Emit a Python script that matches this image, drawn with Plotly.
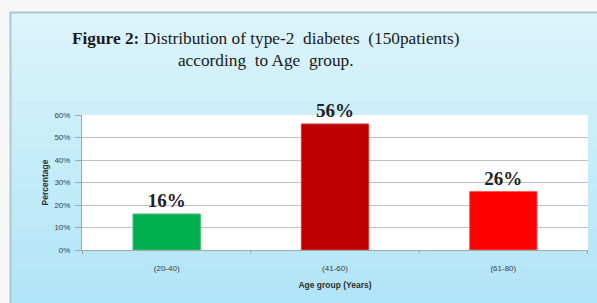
import plotly.graph_objects as go

categories = ["(20-40)", "(41-60)", "(61-80)"]
values = [16, 56, 26]
labels = ["16%", "56%", "26%"]
colors = ["#00B050", "#C00000", "#FF0000"]
border_colors = ["#3cc070", "#d03a3a", "#ff5a5a"]
y_ticks = [0, 10, 20, 30, 40, 50, 60]
y_ticklabels = ["0%", "10%", "20%", "30%", "40%", "50%", "60%"]

W, H = 597, 303
L, R, T, B = 82, 9, 115, 53
pw, ph = W - L - R, H - T - B

def px_x(p):
    return (p - L) / pw

def px_y(p):
    return (H - B - p) / ph

fig = go.Figure()
fig.add_trace(go.Bar(
    x=categories, y=values, width=0.4,
    marker=dict(color=colors, line=dict(color=border_colors, width=1)),
    text=labels, textposition="outside", cliponaxis=False,
    textfont=dict(family="Liberation Serif", size=19, color="#222222"),
    texttemplate="<b>%{text}</b>", hoverinfo="skip",
))

shapes = []
x0, x1 = px_x(10), px_x(W + 20)
top_px, bot_px = 12, H + 5
n = 30
c_top = (220, 244, 251)
c_bot = (176, 228, 247)
for i in range(n):
    a = top_px + (bot_px - top_px) * i / n
    b = top_px + (bot_px - top_px) * (i + 1) / n + 0.6
    t = i / (n - 1)
    col = tuple(round(c_top[k] + (c_bot[k] - c_top[k]) * t) for k in range(3))
    shapes.append(dict(type="rect", xref="paper", yref="paper", x0=x0, x1=x1,
                       y0=px_y(b), y1=px_y(a), line=dict(width=0),
                       fillcolor="rgb(%d,%d,%d)" % col, layer="below"))
# outer light-gray frame (left and top)
shapes.append(dict(type="rect", xref="paper", yref="paper", x0=px_x(-5), x1=px_x(10),
                   y0=px_y(H + 10), y1=px_y(-5), line=dict(width=0), fillcolor="#f7f7f7", layer="below"))
shapes.append(dict(type="rect", xref="paper", yref="paper", x0=px_x(-5), x1=px_x(W + 20),
                   y0=px_y(12), y1=px_y(-5), line=dict(width=0), fillcolor="#f7f7f7", layer="below"))
# panel border (left and top)
shapes.append(dict(type="line", xref="paper", yref="paper", x0=px_x(10.5), x1=px_x(10.5),
                   y0=px_y(H + 10), y1=px_y(12), line=dict(color="#a9c9ce", width=2), layer="below"))
shapes.append(dict(type="line", xref="paper", yref="paper", x0=px_x(10), x1=px_x(W + 20),
                   y0=px_y(12.5), y1=px_y(12.5), line=dict(color="#a9c9ce", width=2), layer="below"))
shapes.append(dict(type="rect", xref="paper", yref="paper", x0=0, x1=1, y0=0, y1=1,
                   line=dict(width=0), fillcolor="white", layer="below"))
for xb in [-0.5, 0.5, 1.5, 2.5]:
    shapes.append(dict(type="line", xref="x", yref="paper", x0=xb, x1=xb,
                       y0=0, y1=px_y(H - B + 4), line=dict(color="#a6a6a6", width=1)))
fig.update_layout(shapes=shapes)

fig.add_annotation(
    text="<b>Figure 2:</b> Distribution of type-2  diabetes  (150patients)<br>according  to Age  group.",
    xref="paper", yref="paper", x=px_x(265), y=px_y(49), xanchor="center", yanchor="middle",
    showarrow=False, align="center",
    font=dict(family="Liberation Serif", size=17.3, color="#1a1a1a"),
)

fig.update_layout(
    width=W, height=H,
    margin=dict(l=L, r=R, t=T, b=B, pad=0),
    paper_bgcolor="#c3eaf8", plot_bgcolor="white",
    showlegend=False, bargap=0.6, hovermode=False,
    font=dict(family="Liberation Sans", size=8, color="#505050"),
    xaxis=dict(
        title=dict(text="<b>Age group (Years)</b>", font=dict(size=8.5, color="#303030"), standoff=10),
        showgrid=False, showline=True, linecolor="#a6a6a6", linewidth=1,
        ticks="", ticklabelstandoff=10, tickfont=dict(size=8, color="#404040"),
    ),
    yaxis=dict(
        title=dict(text="<b>Percentage</b>", font=dict(size=8.5, color="#303030"), standoff=4),
        range=[0, 60], tickvals=y_ticks, ticktext=y_ticklabels,
        showgrid=True, gridcolor="#c0c0c0", gridwidth=1,
        showline=True, linecolor="#a6a6a6", linewidth=1,
        ticks="outside", ticklen=6, tickcolor="#a6a6a6", ticklabelstandoff=3,
        tickfont=dict(size=8, color="#404040"), zeroline=False,
    ),
)

fig.write_html("out.html", config={"displayModeBar": False},
               post_script="document.body.style.margin='0';document.body.style.overflow='hidden';"
                           "document.documentElement.style.overflow='hidden';")
